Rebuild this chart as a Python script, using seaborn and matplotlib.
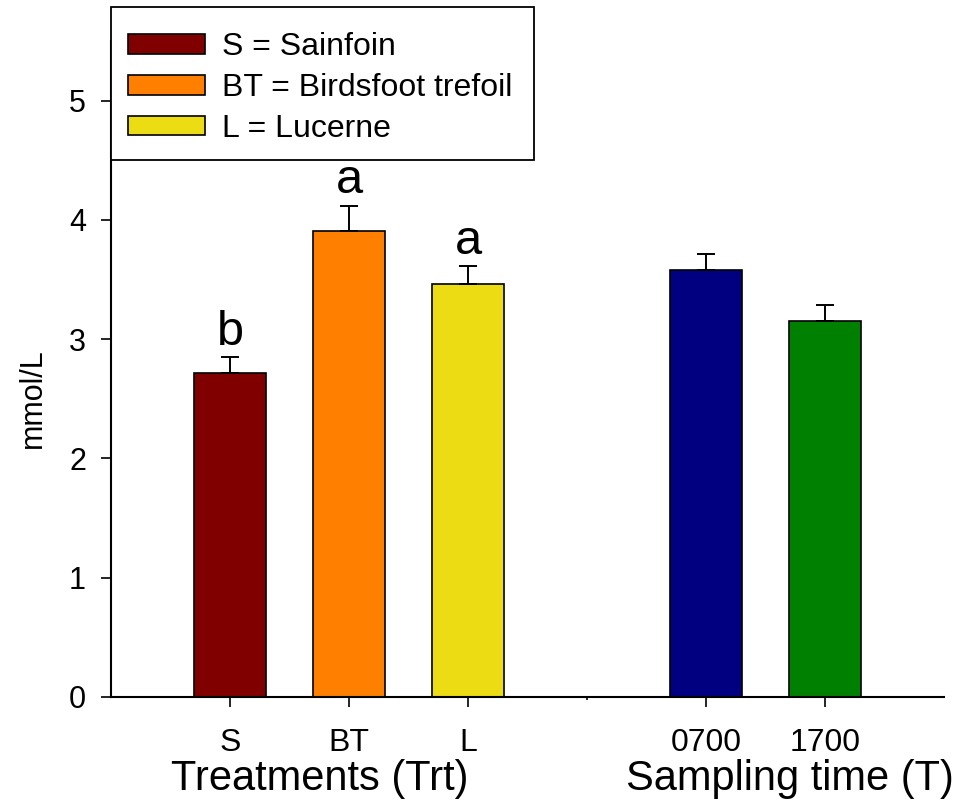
import pandas as pd
import matplotlib
matplotlib.use("Agg")
import matplotlib.pyplot as plt
from matplotlib.patches import Patch, Rectangle
import seaborn as sns

# data
groups = ["S", "BT", "L", "", "0700", "1700"]
means = [2.72, 3.91, 3.46, 0.0, 3.58, 3.15]
errs = [0.13, 0.21, 0.15, 0.0, 0.13, 0.14]
letters = ["b", "a", "a", "", "", ""]
colors = ["#800000", "#FF8000", "#EBDC14", "#FFFFFF", "#000080", "#008000"]
legend_labels = ["S = Sainfoin", "BT = Birdsfoot trefoil", "L = Lucerne"]

df = pd.DataFrame({"group": groups, "mean": means, "err": errs})

sns.set_style("ticks", {"axes.edgecolor": "black", "text.color": "black",
                        "xtick.color": "black", "ytick.color": "black",
                        "axes.labelcolor": "black"})
plt.rcParams["font.family"] = ["Liberation Sans", "DejaVu Sans"]

fig = plt.figure(figsize=(9.6, 8.01), dpi=100)
ax = fig.add_axes([111 / 960, 1 - 697 / 801, (944 - 111) / 960, (697 - 41) / 801])

sns.barplot(data=df, x="group", y="mean", hue="group", order=groups,
            palette=dict(zip(groups, colors)), legend=False, width=0.6,
            saturation=1, edgecolor="black", linewidth=1.2, errorbar=None, ax=ax)
# the empty slot between the two groups
ax.patches[3].set_visible(False)

for i, (m, e) in enumerate(zip(means, errs)):
    if m == 0:
        continue
    ax.errorbar(i, m, yerr=[[0], [e]], fmt="none", ecolor="black",
                elinewidth=1.4, capsize=6.5, capthick=1.4)
    if letters[i]:
        ax.text(i, m + e + 0.02, letters[i], ha="center", va="bottom", fontsize=35)

ax.set_xlim(-1, 6)
ax.set_ylim(0, 5.5)
ax.set_yticks([0, 1, 2, 3, 4, 5])
ax.set_xticks(range(len(groups)))
ax.set_xticklabels(groups)
ax.tick_params(axis="x", length=7, width=1.2, pad=15, labelsize=23)
ax.tick_params(axis="y", length=7, width=1.2, pad=11, labelsize=22)
ax.xaxis.get_major_ticks()[3].tick1line.set_markersize(2)
for s in ["top", "right"]:
    ax.spines[s].set_visible(False)
for s in ["left", "bottom"]:
    ax.spines[s].set_linewidth(1.5)
ax.set_xlabel("")
ax.set_ylabel("")

fig.text(33 / 960, 1 - 398 / 801, "mmol/L", rotation=90, ha="center", va="center", fontsize=22)
fig.text(320 / 960, 1 - 790 / 801, "Treatments (Trt)", ha="center", va="baseline", fontsize=30)
fig.text(790 / 960, 1 - 790 / 801, "Sampling time (T)", ha="center", va="baseline", fontsize=30)

# legend box drawn separately so the padding matches the reference
fig.patches.append(Rectangle((111 / 960, 1 - 160 / 801), (534 - 111) / 960, 153 / 801,
                             transform=fig.transFigure, facecolor="white",
                             edgecolor="black", linewidth=1.3, zorder=5))
handles = [Patch(facecolor=c, edgecolor="black", linewidth=1.2) for c in colors[:3]]
leg = fig.legend(handles, legend_labels, loc="upper left",
                 bbox_to_anchor=(128 / 960, 1 - 32 / 801), borderaxespad=0,
                 borderpad=0, fontsize=23, frameon=False,
                 handlelength=2.4, handleheight=0.58, handletextpad=0.55,
                 labelspacing=0.34)
leg.set_zorder(6)

fig.savefig("out.png", dpi=100)
